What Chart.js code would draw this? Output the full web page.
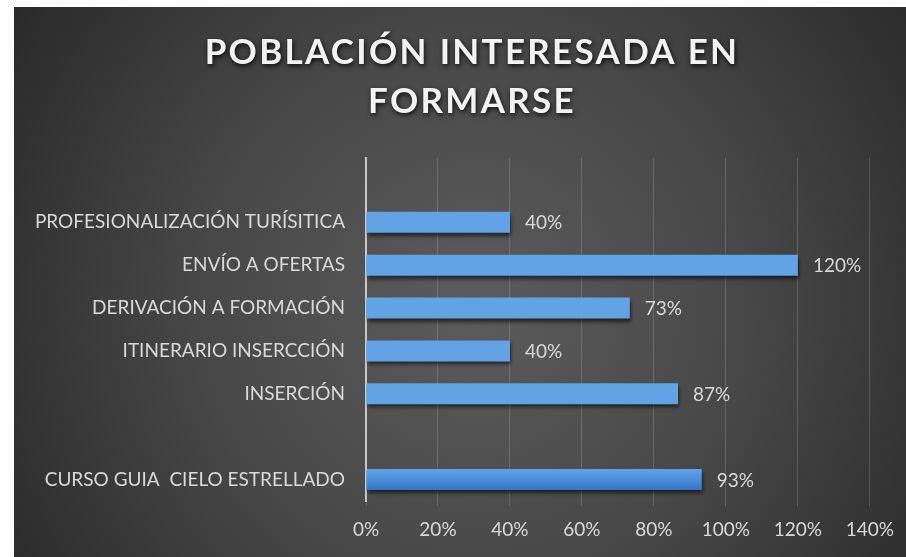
<!DOCTYPE html>
<html>
<head>
<meta charset="utf-8">
<script src="https://cdn.jsdelivr.net/npm/chart.js@4/dist/chart.umd.min.js"></script>
<style>
  html, body { margin: 0; padding: 0; background: #ffffff; }
  #wrap { position: absolute; left: 14px; top: 7px; width: 892px; height: 550px; }
  canvas { display: block; }
</style>
</head>
<body>
<div id="wrap"><canvas id="c" width="892" height="550"></canvas></div>
<script>
// ---- data ----
const titleLines = ['POBLACIÓN INTERESADA EN', 'FORMARSE'];
const categories = ['', 'PROFESIONALIZACIÓN TURÍSITICA', 'ENVÍO A OFERTAS', 'DERIVACIÓN A FORMACIÓN', 'ITINERARIO INSERCCIÓN', 'INSERCIÓN', ' ', 'CURSO GUIA  CIELO ESTRELLADO'];
const values = [null, 40, 120, 73.3, 40, 86.7, null, 93.3];
const xTicks = [0, 20, 40, 60, 80, 100, 120, 140];

const FONT = 'Lato, "Open Sans", sans-serif';
const TXT = '#d9d9d9';

const bgPlugin = {
  id: 'bg',
  beforeDraw(chart) {
    const { ctx, width, height } = chart;
    ctx.save();
    const g = ctx.createRadialGradient(460, 300, 0, 460, 300, 620);
    g.addColorStop(0, '#5c5c5c');
    g.addColorStop(0.45, '#474747');
    g.addColorStop(1, '#222222');
    ctx.fillStyle = g;
    ctx.fillRect(0, 0, width, height);
    ctx.restore();
  }
};

const titlePlugin = {
  id: 'customTitle',
  afterDraw(chart) {
    const { ctx } = chart;
    ctx.save();
    ctx.font = 'bold 35px ' + FONT;
    ctx.letterSpacing = '2.3px';
    ctx.textAlign = 'center';
    ctx.textBaseline = 'alphabetic';
    ctx.shadowColor = 'rgba(0,0,0,0.85)';
    ctx.shadowBlur = 5;
    ctx.shadowOffsetX = 1;
    ctx.shadowOffsetY = 2;
    ctx.fillStyle = '#f2f2f2';
    ctx.fillText(titleLines[0], 458, 57);
    ctx.fillText(titleLines[1], 458, 106);
    ctx.restore();
  }
};

const barStyle = {
  id: 'barStyle',
  beforeDatasetsDraw(chart) {
    const { ctx } = chart;
    const meta = chart.getDatasetMeta(0);
    meta.data.forEach(el => {
      if (!el || el.skip) return;
      const top = el.y - el.height / 2, bot = el.y + el.height / 2;
      const g = ctx.createLinearGradient(0, top, 0, bot);
      g.addColorStop(0, '#62a3e6');
      g.addColorStop(0.5, '#4a8fda');
      g.addColorStop(1, '#3574c4');
      el.options.backgroundColor = g;
    });
    ctx.save();
    ctx.shadowColor = 'rgba(0,0,0,0.6)';
    ctx.shadowBlur = 4;
    ctx.shadowOffsetX = 1;
    ctx.shadowOffsetY = 3;
  },
  afterDatasetsDraw(chart) {
    const { ctx } = chart;
    ctx.restore();
    const meta = chart.getDatasetMeta(0);
    ctx.save();
    ctx.font = '19px ' + FONT;
    ctx.fillStyle = TXT;
    ctx.textAlign = 'left';
    ctx.textBaseline = 'middle';
    meta.data.forEach((el, i) => {
      const v = values[i];
      if (v === null || v === undefined) return;
      ctx.fillText(Math.round(v) + '%', el.x + 15, el.y + 1);
    });
    ctx.restore();
  }
};

new Chart(document.getElementById('c'), {
  type: 'bar',
  data: {
    labels: categories,
    datasets: [{
      data: values,
      backgroundColor: '#4a8fda',
      borderWidth: 0,
      categoryPercentage: 1,
      barPercentage: 0.49
    }]
  },
  options: {
    indexAxis: 'y',
    responsive: false,
    animation: false,
    layout: { padding: { top: 151, right: 32, bottom: 0, left: 0 } },
    plugins: {
      legend: { display: false },
      title: { display: false },
      tooltip: { enabled: false }
    },
    scales: {
      x: {
        min: 0, max: 140,
        afterBuildTicks(scale) { scale.ticks = xTicks.map(v => ({ value: v })); },
        afterFit(scale) { scale.height = 56; },
        grid: { color: 'rgba(255,255,255,0.16)', lineWidth: 1, tickLength: 5, drawOnChartArea: true },
        border: { display: false },
        ticks: {
          color: TXT, font: { family: FONT, size: 19 }, padding: 12,
          callback: v => v + '%', maxRotation: 0, autoSkip: false
        }
      },
      y: {
        afterFit(scale) { scale.width = 352; },
        grid: { display: false, drawTicks: false },
        border: { display: true, color: '#c8c8c8', width: 2 },
        ticks: { color: TXT, font: { family: FONT, size: 19 }, padding: 21, autoSkip: false }
      }
    }
  },
  plugins: [bgPlugin, barStyle, titlePlugin]
});
</script>
</body>
</html>
